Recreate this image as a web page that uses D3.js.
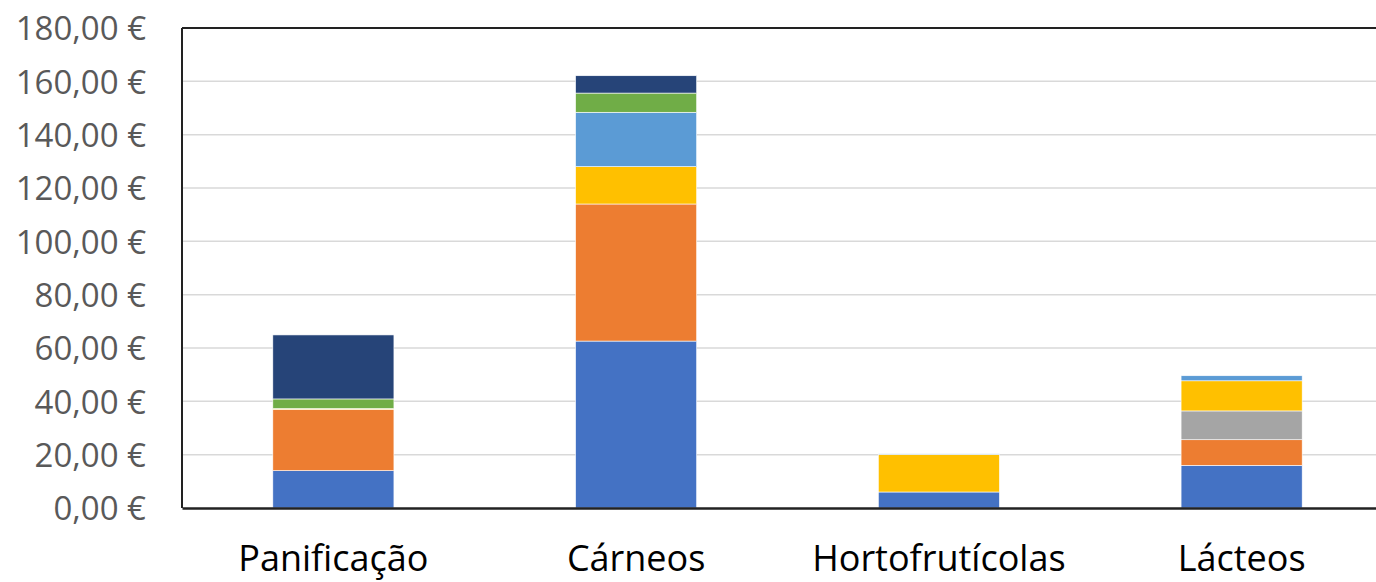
<!DOCTYPE html>
<html>
<head>
<meta charset="UTF-8">
<title>Custos por categoria</title>
<script src="https://cdn.jsdelivr.net/npm/d3@7"></script>
<style>
  body { margin:0; background:#fff; }
  svg text { font-family:"Open Sans", "Liberation Sans", sans-serif; }
</style>
</head>
<body>
<svg id="chart" width="1376" height="582"></svg>
<script>
// categorias e series
var categorias = ["Panificação", "Cárneos", "Hortofrutícolas", "Lácteos"];
var series = ["s1", "s2", "s3", "s4", "s5", "s6", "s7"];
var cores = ["#4472C4", "#ED7D31", "#A5A5A5", "#FFC000", "#5B9BD5", "#70AD47", "#264478"];
var s1 = [14.0, 62.6, 6.0, 16.0];
var s2 = [23.0, 51.4, 0, 9.6];
var s3 = [0, 0, 0, 10.8];
var s4 = [0.3, 14.0, 14.1, 11.3];
var s5 = [0, 20.4, 0.2, 1.9];
var s6 = [3.6, 7.2, 0, 0];
var s7 = [24.0, 6.5, 0, 0];
var ticks = [0, 20, 40, 60, 80, 100, 120, 140, 160, 180];

var valores = [s1, s2, s3, s4, s5, s6, s7];
var linhas = categorias.map(function(c, i){
    var o = {cat: c};
    series.forEach(function(s, j){ o[s] = valores[j][i]; });
    return o;
});

var svg = d3.select("#chart");
var mEsq = 182, mTopo = 28, mBase = 508, mDir = 1393;

var x = d3.scaleBand().domain(categorias).range([mEsq, mDir]).paddingInner(0.6).paddingOuter(0.3);
var y = d3.scaleLinear().domain([0, 180]).range([mBase, mTopo]);

// grelha
svg.append("g").selectAll("line").data(ticks.slice(1, -1)).enter().append("line")
    .attr("x1", mEsq).attr("x2", mDir)
    .attr("y1", function(d){ return y(d); }).attr("y2", function(d){ return y(d); })
    .attr("stroke", "#d9d9d9").attr("stroke-width", 1.5);

var pilha = d3.stack().keys(series)(linhas);
svg.append("g").selectAll("g").data(pilha).enter().append("g")
    .attr("fill", function(d, i){ return cores[i]; })
    .selectAll("rect").data(function(d){ return d; }).enter().append("rect")
    .attr("x", function(d){ return x(d.data.cat); })
    .attr("width", x.bandwidth())
    .attr("y", function(d){ return y(d[1]); })
    .attr("height", function(d){ return y(d[0]) - y(d[1]); })
    .attr("stroke", "#fff").attr("stroke-width", function(d){ return d[1] > d[0] ? 0.6 : 0; });

// moldura
svg.append("line").attr("x1", mEsq).attr("x2", mDir).attr("y1", mTopo).attr("y2", mTopo)
    .attr("stroke", "#222").attr("stroke-width", 2);
svg.append("line").attr("x1", mEsq).attr("x2", mEsq).attr("y1", mTopo).attr("y2", mBase)
    .attr("stroke", "#222").attr("stroke-width", 2);

// eixo y
var fmt = function(d){ return d.toFixed(2).replace(".", ",") + " €"; };
var eixoY = svg.append("g").attr("transform", "translate(" + (mEsq - 36) + ",0)")
    .call(d3.axisLeft(y).tickValues(ticks).tickFormat(fmt).tickSize(0).tickPadding(0));
eixoY.select(".domain").remove();
eixoY.selectAll("text").attr("fill", "#595959").style("font-size", "33px")
    .attr("dy", "0.36em");

// eixo x
var eixoX = svg.append("g").attr("transform", "translate(0," + mBase + ")")
    .call(d3.axisBottom(x).tickSize(0).tickPadding(0));
eixoX.select(".domain").attr("stroke", "#222").attr("stroke-width", 2.5);
eixoX.selectAll("text").attr("fill", "#000").style("font-size", "36px")
    .attr("dy", 0).attr("y", 63);
</script>
</body>
</html>
